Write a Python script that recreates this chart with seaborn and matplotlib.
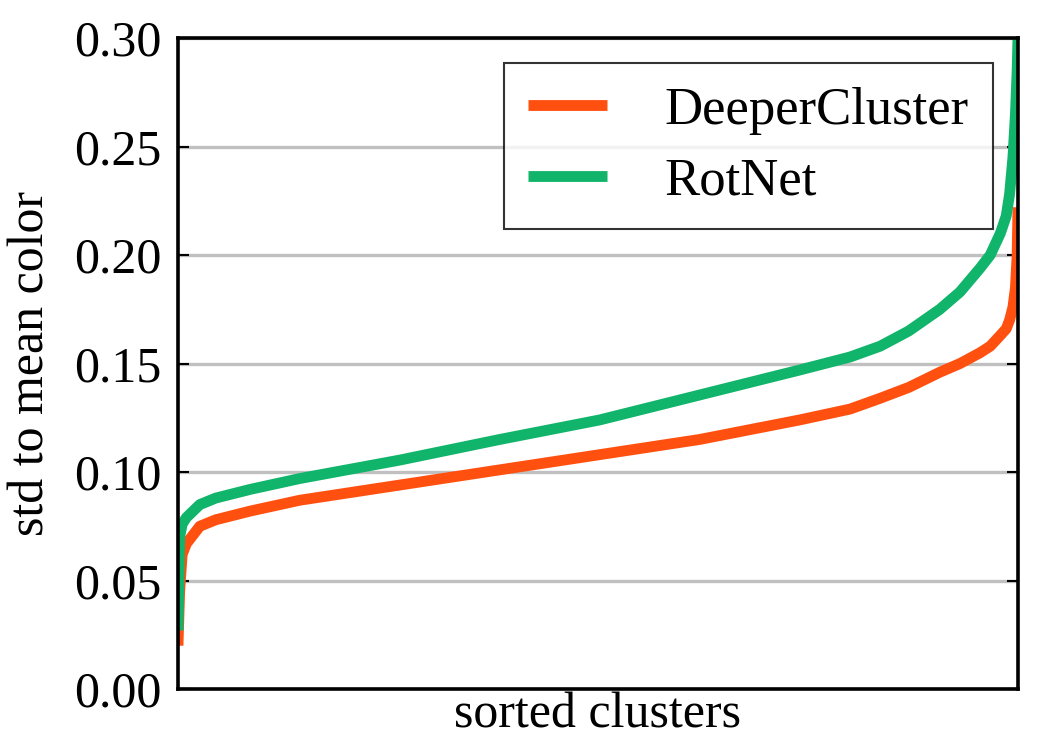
"""Sorted per-cluster colour spread for DeeperCluster vs RotNet."""

import matplotlib

matplotlib.use("Agg")
import matplotlib.pyplot as plt
import pandas as pd
import seaborn as sns

# fraction of clusters (sorted rank)
rank = [0.0, 0.002, 0.005, 0.010, 0.018, 0.026, 0.045, 0.086, 0.145, 0.264,
        0.383, 0.502, 0.621, 0.740, 0.800, 0.836, 0.870, 0.907, 0.931, 0.955,
        0.967, 0.979, 0.986, 0.990, 0.994, 0.997, 0.999, 1.0]
deepercluster = [0.020, 0.045, 0.062, 0.067, 0.071, 0.075, 0.078, 0.082, 0.087, 0.094,
                 0.101, 0.108, 0.115, 0.124, 0.129, 0.134, 0.139, 0.146, 0.150, 0.155,
                 0.158, 0.163, 0.166, 0.170, 0.176, 0.185, 0.200, 0.222]
rotnet = [0.027, 0.070, 0.076, 0.079, 0.082, 0.085, 0.088, 0.092, 0.097, 0.1055,
          0.115, 0.124, 0.1355, 0.147, 0.153, 0.158, 0.165, 0.175, 0.183, 0.194,
          0.200, 0.210, 0.218, 0.228, 0.245, 0.265, 0.285, 0.300]
y_ticks = [0.00, 0.05, 0.10, 0.15, 0.20, 0.25, 0.30]

palette = {"DeeperCluster": "#ff5010", "RotNet": "#10b46a"}

df = pd.concat(
    [
        pd.DataFrame({"rank": rank, "std": deepercluster, "model": "DeeperCluster"}),
        pd.DataFrame({"rank": rank, "std": rotnet, "model": "RotNet"}),
    ],
    ignore_index=True,
)

sns.set_style("white")
plt.rcParams["font.family"] = ["Liberation Serif", "DejaVu Serif"]
plt.rcParams["text.color"] = "black"
plt.rcParams["axes.labelcolor"] = "black"
plt.rcParams["ytick.color"] = "black"

fig = plt.figure(figsize=(10.5, 7.5), dpi=100)
ax = fig.add_axes([0.1695, 0.0813, 0.80, 0.868])

ax.set_axisbelow(True)
ax.yaxis.grid(True, color="#c0c0c0", linewidth=2.4)
sns.lineplot(data=df, x="rank", y="std", hue="model", palette=palette,
             linewidth=7.8, ax=ax, legend=True)
for line in ax.get_lines():
    line.set_solid_joinstyle("round")
    line.set_solid_capstyle("butt")

ax.set_xlim(0, 1)
ax.set_ylim(0, 0.30)
ax.set_xticks([])
ax.set_yticks(y_ticks)
ax.set_yticklabels([f"{t:.2f}" for t in y_ticks])
ax.tick_params(axis="y", direction="in", length=8, width=1.5, labelsize=36,
               left=True, right=True, pad=12, colors="black")
for side in ax.spines.values():
    side.set_color("black")
    side.set_linewidth(2.6)

ax.set_xlabel("sorted clusters", fontsize=36, labelpad=2)
ax.set_ylabel("std to mean color", fontsize=36, labelpad=14)

leg = ax.legend(loc="upper right", bbox_to_anchor=(0.970, 0.962), fontsize=38,
                fancybox=False, frameon=True, edgecolor="black",
                handlelength=1.5, handletextpad=1.1, borderpad=0.45,
                labelspacing=0.44, borderaxespad=0)
leg.get_frame().set_linewidth(1.5)
for line in leg.get_lines():
    line.set_linewidth(7.8)
    line.set_solid_capstyle("butt")

fig.savefig("out.png", dpi=100)
plt.close(fig)
